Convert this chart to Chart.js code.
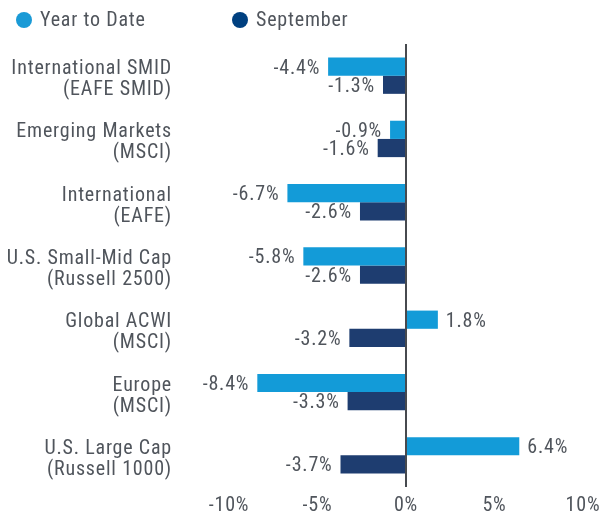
<!DOCTYPE html>
<html>
<head>
<meta charset="utf-8">
<script src="https://cdn.jsdelivr.net/npm/chart.js@4.4.1/dist/chart.umd.min.js"></script>
<style>
  html, body { margin: 0; padding: 0; background: #fff; }
  #wrap { width: 602px; height: 515px; position: relative; }
</style>
</head>
<body>
<div id="wrap"><canvas id="returns"></canvas></div>
<script>
const categories = [
  ["International SMID", "(EAFE SMID)"],
  ["Emerging Markets", "(MSCI)"],
  ["International", "(EAFE)"],
  ["U.S. Small-Mid Cap", "(Russell 2500)"],
  ["Global ACWI", "(MSCI)"],
  ["Europe", "(MSCI)"],
  ["U.S. Large Cap", "(Russell 1000)"],
];
const seriesNames = ["Year to Date", "September"];
const yearToDate = [-4.4, -0.9, -6.7, -5.8, 1.8, -8.4, 6.4];
const september = [-1.3, -1.6, -2.6, -2.6, -3.2, -3.3, -3.7];
const xTicks = [-10, -5, 0, 5, 10];

const FONT = "'Roboto Condensed', 'Liberation Sans Narrow', 'DejaVu Sans Condensed', Roboto, sans-serif";
const SIZE = 20;
const TEXT = "#50555c";
const colors = ["#139bd8", "#1e3d70"];
const legendColors = ["#1a9ad6", "#004080"];

// the source font is a little looser than Roboto Condensed
const spacing = {
  id: "spacing",
  beforeLayout(chart) { chart.ctx.letterSpacing = "0.8px"; },
  beforeDraw(chart) { chart.ctx.letterSpacing = "0.8px"; },
};

// value labels at the end of each bar
const barLabels = {
  id: "barLabels",
  afterDatasetsDraw(chart) {
    const ctx = chart.ctx;
    ctx.save();
    ctx.font = SIZE + "px " + FONT;
    ctx.fillStyle = TEXT;
    ctx.textBaseline = "middle";
    chart.data.datasets.forEach((ds, i) => {
      chart.getDatasetMeta(i).data.forEach((bar, j) => {
        const v = ds.data[j];
        const txt = v.toFixed(1) + "%";
        if (v < 0) {
          ctx.textAlign = "right";
          ctx.fillText(txt, bar.x - 8, bar.y + 2);
        } else {
          ctx.textAlign = "left";
          ctx.fillText(txt, bar.x + 8, bar.y + 2);
        }
      });
    });
    ctx.restore();
  },
};

// legend drawn by hand so the item spacing matches
const topLegend = {
  id: "topLegend",
  afterDraw(chart) {
    const ctx = chart.ctx;
    const xs = [16, 232];
    ctx.save();
    ctx.font = SIZE + "px " + FONT;
    ctx.textBaseline = "middle";
    ctx.textAlign = "left";
    seriesNames.forEach((name, i) => {
      ctx.fillStyle = legendColors[i];
      ctx.beginPath();
      ctx.arc(xs[i] + 8, 20, 8, 0, Math.PI * 2);
      ctx.fill();
      ctx.fillStyle = TEXT;
      ctx.fillText(name, xs[i] + 24, 21);
    });
    ctx.restore();
  },
};

new Chart(document.getElementById("returns"), {
  type: "bar",
  data: {
    labels: categories,
    datasets: [
      {
        label: seriesNames[0],
        data: yearToDate,
        backgroundColor: colors[0],
        categoryPercentage: 0.575,
        barPercentage: 1.0,
      },
      {
        label: seriesNames[1],
        data: september,
        backgroundColor: colors[1],
        categoryPercentage: 0.575,
        barPercentage: 1.0,
      },
    ],
  },
  options: {
    indexAxis: "y",
    responsive: true,
    maintainAspectRatio: false,
    animation: false,
    layout: { padding: { top: 44, right: 19, left: 0, bottom: -10 } },
    plugins: {
      legend: { display: false },
      tooltip: { enabled: false },
    },
    scales: {
      x: {
        min: -10,
        max: 10,
        afterBuildTicks: (scale) => {
          scale.ticks = xTicks.map((v) => ({ value: v }));
        },
        afterFit: (scale) => {
          scale.paddingLeft = 0;
          scale.paddingRight = 0;
        },
        ticks: {
          callback: (v) => v + "%",
          font: { family: FONT, size: SIZE, lineHeight: 1.0 },
          color: TEXT,
          padding: 9,
        },
        grid: {
          drawTicks: false,
          color: (c) => (c.tick && c.tick.value === 0 ? "#474a4f" : "rgba(0,0,0,0)"),
          lineWidth: 2,
        },
        border: { display: false },
      },
      y: {
        afterFit: (scale) => {
          scale.width = 229;
          scale.paddingTop = 0;
          scale.paddingBottom = 0;
        },
        ticks: {
          font: { family: FONT, size: SIZE, lineHeight: 1.05 },
          color: TEXT,
          padding: 49,
          labelOffset: 4,
        },
        grid: { display: false },
        border: { display: false },
      },
    },
  },
  plugins: [spacing, barLabels, topLegend],
});
</script>
</body>
</html>
